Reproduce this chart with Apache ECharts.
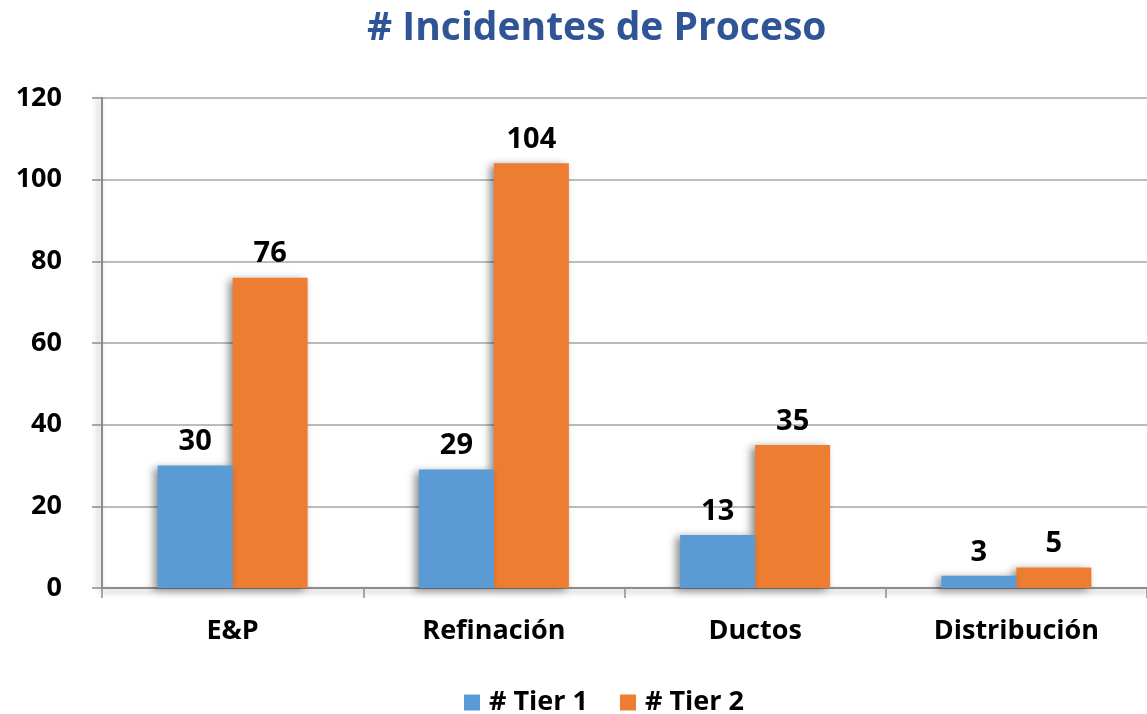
<!DOCTYPE html>
<html>
<head>
<meta charset="utf-8">
<script src="https://cdn.jsdelivr.net/npm/echarts@6/dist/echarts.min.js"></script>
<style>
  html, body { margin: 0; padding: 0; background: #fff; }
  #chart { width: 1147px; height: 714px; }
</style>
</head>
<body>
<div id="chart"></div>
<script>
// categorias y valores
const categories = ['E&P', 'Refinación', 'Ductos', 'Distribución']
const tier1 = [30, 29, 13, 3]
const tier2 = [76, 104, 35, 5]
const seriesNames = ['# Tier 1', '# Tier 2']
const yMin = 0
const yMax = 120
const yStep = 20

const FONT = '"Open Sans", Lato, sans-serif'

const barShadow = {
  shadowColor: 'rgba(0,0,0,0.45)',
  shadowBlur: 8,
  shadowOffsetX: -4,
  shadowOffsetY: 2
}

const myChart = echarts.init(document.getElementById('chart'))
myChart.setOption({
  animation: false,
  backgroundColor: '#fff',
  title: {
    text: '# Incidentes de Proceso',
    left: 362,
    top: 4,
    textStyle: { color: '#2F5597', fontFamily: FONT, fontWeight: 'bold', fontSize: 39 }
  },
  legend: {
    top: 684,
    left: 459,
    itemWidth: 16,
    itemHeight: 16,
    itemGap: 32,
    icon: 'rect',
    textStyle: { color: '#000', fontFamily: FONT, fontWeight: 'bold', fontSize: 27, padding: [0, 0, 0, 4] },
    data: seriesNames
  },
  grid: { left: 102, right: 0, top: 98, bottom: 126, containLabel: false },
  xAxis: {
    type: 'category',
    data: categories,
    axisLine: {
      lineStyle: { color: '#8c8c8c', width: 2, shadowColor: 'rgba(0,0,0,0.35)', shadowBlur: 6, shadowOffsetY: 3 }
    },
    axisTick: { show: true, length: 10, lineStyle: { color: '#8c8c8c', width: 1.5 } },
    axisLabel: { color: '#000', fontFamily: FONT, fontWeight: 'bold', fontSize: 27, margin: 30 }
  },
  yAxis: {
    type: 'value',
    min: yMin,
    max: yMax,
    interval: yStep,
    axisLine: {
      show: true,
      lineStyle: { color: '#8c8c8c', width: 2, shadowColor: 'rgba(0,0,0,0.35)', shadowBlur: 6, shadowOffsetX: -3 }
    },
    axisTick: { show: true, length: 10, lineStyle: { color: '#8c8c8c', width: 1.5 } },
    axisLabel: { color: '#000', fontFamily: FONT, fontWeight: 'bold', fontSize: 27, margin: 40 },
    splitLine: { lineStyle: { color: '#a6a6a6', width: 1.5 } }
  },
  series: [
    {
      name: seriesNames[0],
      type: 'bar',
      data: tier1,
      barWidth: 75,
      barGap: '0%',
      z: 3,
      itemStyle: Object.assign({ color: '#5B9BD5' }, barShadow),
      label: {
        show: true, position: 'top', distance: 9,
        color: '#000', fontFamily: FONT, fontWeight: 'bold', fontSize: 29
      }
    },
    {
      name: seriesNames[1],
      type: 'bar',
      data: tier2,
      barWidth: 75,
      barGap: '0%',
      z: 2,
      itemStyle: Object.assign({ color: '#ED7D31' }, barShadow),
      label: {
        show: true, position: 'top', distance: 9,
        color: '#000', fontFamily: FONT, fontWeight: 'bold', fontSize: 29
      }
    }
  ]
})
</script>
</body>
</html>
